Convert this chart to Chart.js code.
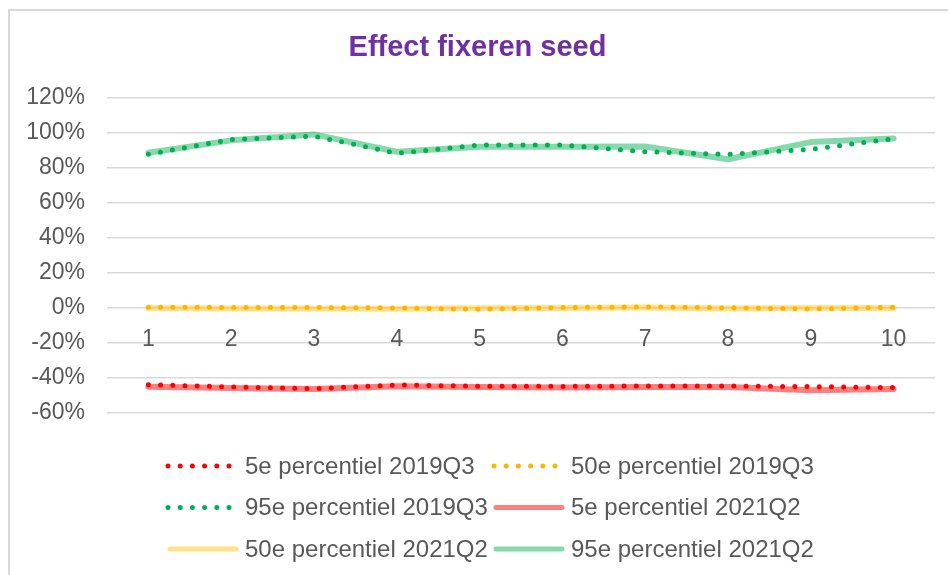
<!DOCTYPE html>
<html>
<head>
<meta charset="utf-8">
<script src="https://cdn.jsdelivr.net/npm/chart.js"></script>
<style>
	body { margin: 0; background: #fff; }
	canvas { display: block; }
</style>
</head>
<body>
<canvas id="myChart" width="948" height="575"></canvas>
<script>
// data (fractions, 1 = 100%)
var runs = ['1', '2', '3', '4', '5', '6', '7', '8', '9', '10'];

var p5_2019 = [-0.438, -0.451, -0.461, -0.440, -0.447, -0.448, -0.446, -0.446, -0.449, -0.455];
var p50_2019 = [0.004, 0.003, 0.002, 0.000, -0.008, 0.002, 0.006, 0.001, -0.006, 0.004];
var p95_2019 = [0.877, 0.962, 0.981, 0.883, 0.930, 0.930, 0.892, 0.877, 0.906, 0.966];

var p5_2021 = [-0.450, -0.457, -0.463, -0.447, -0.451, -0.454, -0.452, -0.452, -0.470, -0.463];
var p50_2021 = [0.000, -0.003, -0.003, -0.004, -0.002, -0.001, 0.002, -0.003, -0.001, 0.000];
var p95_2021 = [0.886, 0.957, 0.991, 0.892, 0.920, 0.920, 0.922, 0.849, 0.947, 0.968];

var yTicks = { min: -0.6, max: 1.2, step: 0.2 };

function dotted(label, color, data) {
	return {
		label: label,
		data: data,
		borderColor: color,
		backgroundColor: color,
		borderWidth: 5,
		borderDash: [0, 12.2],
		borderCapStyle: 'round',
		pointRadius: 0,
		tension: 0,
		fill: false
	};
}

function solid(label, color, data) {
	return {
		label: label,
		data: data,
		borderColor: color,
		backgroundColor: color,
		borderWidth: 6,
		borderCapStyle: 'round',
		borderJoinStyle: 'round',
		pointRadius: 0,
		tension: 0,
		fill: false
	};
}

// light grey frame round the whole chart
var framePlugin = {
	id: 'frame',
	beforeDraw: function(chart) {
		var c = chart.ctx;
		c.save();
		c.strokeStyle = '#d9d9d9';
		c.lineWidth = 2;
		c.strokeRect(9, 10, chart.width + 10, chart.height + 10);
		c.restore();
	}
};

// excel style legend, two columns
var legendPlugin = {
	id: 'gridLegend',
	afterDraw: function(chart) {
		var c = chart.ctx;
		var cols = [168, 494];
		c.save();
		c.font = '24px "Liberation Sans", Arial, sans-serif';
		c.fillStyle = '#595959';
		c.textBaseline = 'middle';
		chart.data.datasets.forEach(function(ds, i) {
			var x = cols[i % 2];
			var y = 466 + Math.floor(i / 2) * 41.5;
			c.beginPath();
			c.strokeStyle = ds.borderColor;
			c.lineCap = 'round';
			if (ds.borderDash) {
				c.lineWidth = ds.borderWidth;
				c.setLineDash(ds.borderDash);
				c.moveTo(x, y);
				c.lineTo(x + 67, y);
			} else {
				c.lineWidth = 5;
				c.setLineDash([]);
				c.moveTo(x + 2, y);
				c.lineTo(x + 68, y);
			}
			c.stroke();
			c.setLineDash([]);
			c.fillText(ds.label, x + 77, y + 1);
		});
		c.restore();
	}
};

var chartdata = {
	labels: runs,
	datasets: [
		dotted('5e percentiel 2019Q3', '#ff0000', p5_2019),
		dotted('50e percentiel 2019Q3', '#ffb400', p50_2019),
		dotted('95e percentiel 2019Q3', '#00b050', p95_2019),
		solid('5e percentiel 2021Q2', 'rgba(255, 0, 0, 0.5)', p5_2021),
		solid('50e percentiel 2021Q2', 'rgba(255, 192, 0, 0.47)', p50_2021),
		solid('95e percentiel 2021Q2', 'rgba(0, 176, 80, 0.48)', p95_2021)
	]
};

var ctx = document.getElementById('myChart');

var lineGraph = new Chart(ctx, {
	type: 'line',
	data: chartdata,
	plugins: [framePlugin, legendPlugin],
	options: {
		responsive: false,
		animation: false,
		layout: { padding: { left: 20, right: 13, top: 0, bottom: 162 } },
		plugins: {
			legend: { display: false },
			tooltip: { enabled: false },
			title: {
				display: true,
				text: 'Effect fixeren seed',
				color: '#7030a0',
				font: { family: '"Liberation Sans", Arial, sans-serif', size: 29, weight: 'bold' },
				padding: { top: 31, bottom: 32 }
			}
		},
		scales: {
			x: {
				position: { y: 0 },
				offset: true,
				grid: { display: false, drawTicks: false },
				border: { display: false },
				ticks: {
					color: '#595959',
					font: { family: '"Liberation Sans", Arial, sans-serif', size: 23 },
					padding: 18,
					maxRotation: 0
				}
			},
			y: {
				min: yTicks.min,
				max: yTicks.max,
				afterFit: function(scale) { scale.width = 87; },
				grid: { color: '#d9d9d9', lineWidth: 1.5, drawTicks: false },
				border: { display: false },
				ticks: {
					stepSize: yTicks.step,
					color: '#595959',
					padding: 22,
					font: { family: '"Liberation Sans", Arial, sans-serif', size: 23 },
					callback: function(v) { return Math.round(v * 100) + '%'; }
				}
			}
		}
	}
});
</script>
</body>
</html>
